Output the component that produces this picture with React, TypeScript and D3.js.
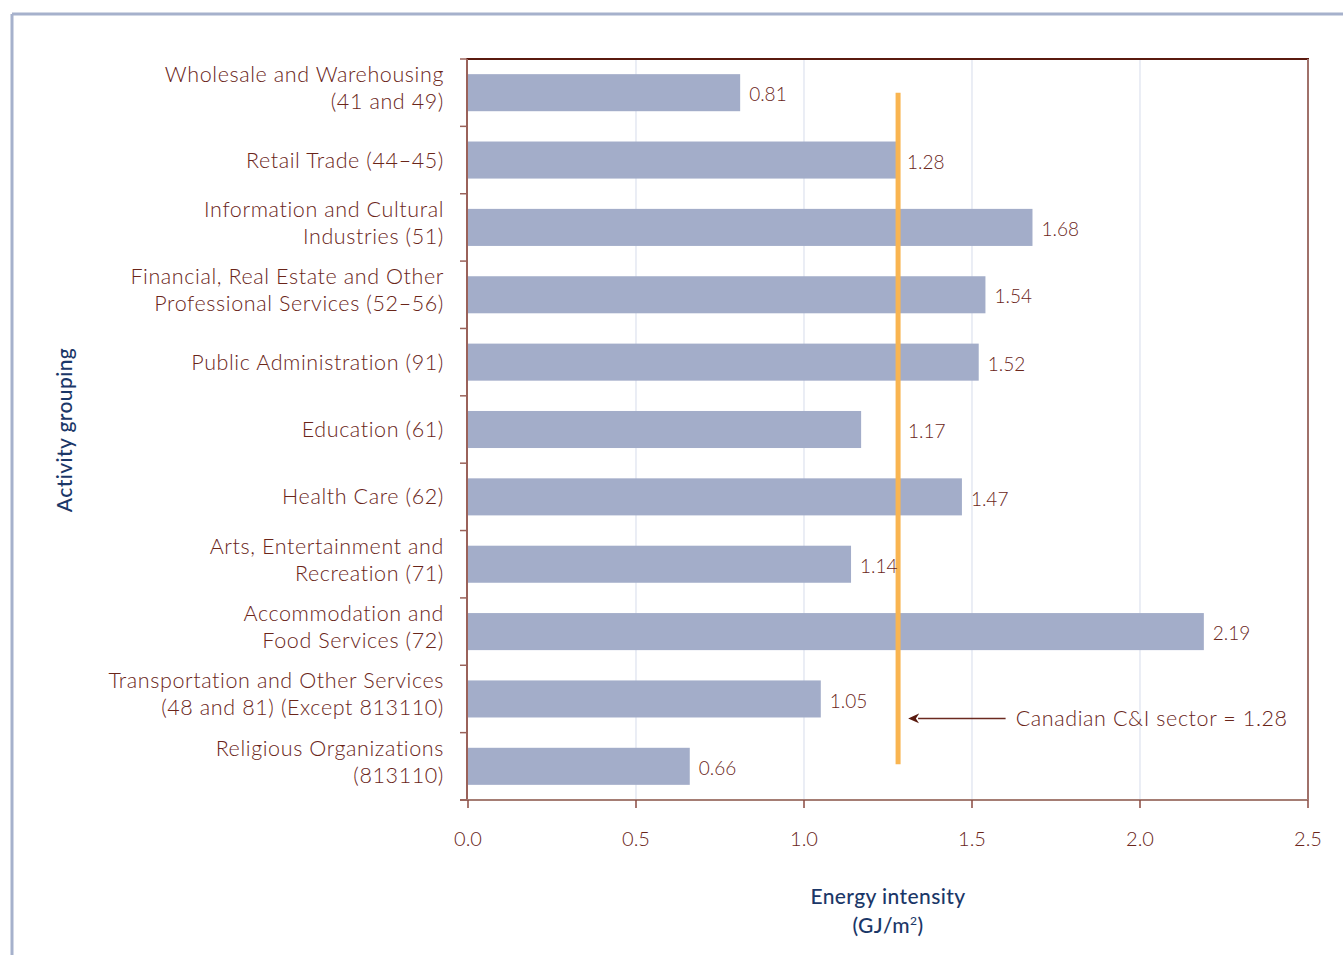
import React from "react";
import * as d3 from "d3";

const categories: string[][] = [
  ["Wholesale and Warehousing", "(41 and 49)"],
  ["Retail Trade (44–45)"],
  ["Information and Cultural", "Industries (51)"],
  ["Financial, Real Estate and Other", "Professional Services (52–56)"],
  ["Public Administration (91)"],
  ["Education (61)"],
  ["Health Care (62)"],
  ["Arts, Entertainment and", "Recreation (71)"],
  ["Accommodation and", "Food Services (72)"],
  ["Transportation and Other Services", "(48 and 81) (Except 813110)"],
  ["Religious Organizations", "(813110)"],
];
const values: number[] = [0.81, 1.28, 1.68, 1.54, 1.52, 1.17, 1.47, 1.14, 2.19, 1.05, 0.66];
const xTicks: number[] = [0, 0.5, 1.0, 1.5, 2.0, 2.5];
const sectorValue = 1.28;
const annotationText = "Canadian C&I sector = 1.28";

const W = 1343;
const H = 955;
const M = { left: 468, right: 1308, top: 59, bottom: 800 };
const FONT = "Lato, 'Open Sans', sans-serif";
const BROWN = "#6a2519";
const NAVY = "#1b3768";

export default function App() {
  const x = d3.scaleLinear().domain([0, 2.5]).range([M.left, M.right]);
  const y = d3
    .scaleBand<number>()
    .domain(d3.range(categories.length))
    .range([M.top, M.bottom])
    .paddingInner(0.45)
    .paddingOuter(0.225);
  const step = y.step();
  const bandStart = (i: number) => M.top + i * step;
  const xs = x(sectorValue);
  const annY = y(9)! + y.bandwidth() + 1;

  return (
    <svg
      width={W}
      height={H}
      style={{ position: "absolute", left: 0, top: 0, background: "#fff" }}
      fontFamily={FONT}
    >
      {/* outer frame */}
      <line x1={12} x2={W} y1={14} y2={14} stroke="#a6b1cc" strokeWidth={3} />
      <line x1={12} x2={12} y1={14} y2={H} stroke="#a6b1cc" strokeWidth={3} />

      {/* gridlines */}
      {xTicks.slice(1, -1).map((t) => (
        <line key={"g" + t} x1={x(t)} x2={x(t)} y1={M.top} y2={M.bottom} stroke="#dde2ee" strokeWidth={1.2} />
      ))}

      {/* bars */}
      {values.map((v, i) => (
        <rect key={"b" + i} x={x(0)} y={y(i)!} width={x(v) - x(0)} height={y.bandwidth()} fill="#a3adc9" />
      ))}

      {/* reference line */}
      <line
        x1={xs}
        x2={xs}
        y1={y(0)! + y.bandwidth() / 2}
        y2={y(categories.length - 1)! + y.bandwidth() / 2 - 2}
        stroke="#f9b551"
        strokeWidth={5}
      />

      {/* value labels */}
      {values.map((v, i) => {
        const gap = xs - x(v);
        const lx = gap > 0 && gap < 40 ? xs + 10 : x(v) + 9;
        return (
          <text
            key={"v" + i}
            x={lx}
            y={y(i)! + y.bandwidth() / 2 + 2}
            dy="0.35em"
            fontSize={19}
            fontWeight={300}
            fill={BROWN}
          >
            {v.toFixed(2)}
          </text>
        );
      })}

      {/* frame of plot */}
      <line x1={M.left - 2} x2={M.right + 1} y1={M.top} y2={M.top} stroke="#5a1a0f" strokeWidth={2} />
      <line x1={M.right} x2={M.right} y1={M.top} y2={M.bottom} stroke="#a0716a" strokeWidth={2} />
      <line x1={M.left - 1} x2={M.left - 1} y1={M.top} y2={M.bottom} stroke="#9a625a" strokeWidth={2} />
      <line x1={M.left - 8} x2={M.right} y1={M.bottom} y2={M.bottom} stroke="#a57d74" strokeWidth={2} />

      {/* y ticks */}
      {d3.range(categories.length + 1).map((i) => (
        <line key={"yt" + i} x1={M.left - 8} x2={M.left - 1} y1={bandStart(i)} y2={bandStart(i)} stroke="#9a625a" strokeWidth={1.5} />
      ))}

      {/* x ticks */}
      {xTicks.map((t) => (
        <g key={"xt" + t}>
          <line x1={x(t)} x2={x(t)} y1={M.bottom} y2={M.bottom + 8} stroke="#8a4a40" strokeWidth={1.5} />
          <text x={x(t)} y={M.bottom + 46} textAnchor="middle" fontSize={20} fontWeight={300} fill={BROWN}>
            {t.toFixed(1)}
          </text>
        </g>
      ))}

      {/* category labels */}
      {categories.map((lines, i) => {
        const c = y(i)! + y.bandwidth() / 2;
        const offs = lines.length === 1 ? [0] : [-18, 9];
        return (
          <text key={"c" + i} textAnchor="end" fontSize={21.5} fontWeight={300} letterSpacing={0.6} fill={BROWN}>
            {lines.map((l, k) => (
              <tspan key={k} x={444} y={c + offs[k]} dy="0.35em">
                {l}
              </tspan>
            ))}
          </text>
        );
      })}

      {/* annotation */}
      <defs>
        <marker id="arr" viewBox="0 0 10 10" refX={1} refY={5} markerWidth={11} markerHeight={11} markerUnits="userSpaceOnUse" orient="auto-start-reverse">
          <path d="M0,0.5 L10,5 L0,9.5 L3,5 Z" fill="#5a1a0f" />
        </marker>
      </defs>
      <line
        x1={x(1.6)}
        x2={xs + 20}
        y1={annY}
        y2={annY}
        stroke="#6b2a20"
        strokeWidth={1.5}
        markerEnd="url(#arr)"
      />
      <text x={x(1.63)} y={annY} dy="0.35em" fontSize={21.5} fontWeight={300} letterSpacing={0.6} fill={BROWN}>
        {annotationText}
      </text>

      {/* axis titles */}
      <text x={888} y={904} textAnchor="middle" fontSize={21} fontWeight={500} letterSpacing={0.4} fill={NAVY}>
        Energy intensity
      </text>
      <text x={888} y={933} textAnchor="middle" fontSize={21} fontWeight={500} letterSpacing={0.4} fill={NAVY}>
        (GJ/m<tspan dy={-8} fontSize={12}>2</tspan>
        <tspan dy={8}>)</tspan>
      </text>
      <text
        transform={`translate(72,${430}) rotate(-90)`}
        textAnchor="middle"
        fontSize={21}
        fontWeight={500}
        letterSpacing={0.4}
        fill={NAVY}
      >
        Activity grouping
      </text>
    </svg>
  );
}
